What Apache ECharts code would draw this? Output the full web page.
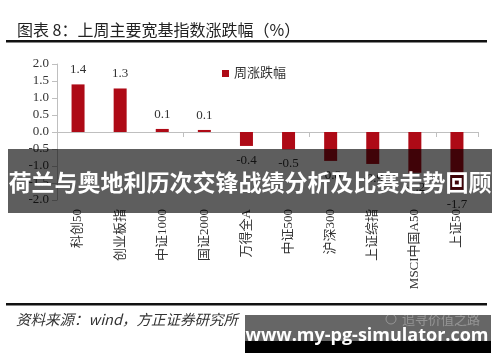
<!DOCTYPE html>
<html>
<head>
<meta charset="utf-8">
<script src="https://cdn.jsdelivr.net/npm/echarts@6/dist/echarts.min.js"></script>
<style>
html,body{margin:0;padding:0;background:#fff;}
#c{width:500px;height:362px;}
</style>
</head>
<body>
<div id="c"></div>
<script>
const categories = ['科创50','创业板指','中证1000','国证2000','万得全A','中证500','沪深300','上证综指','MSCI中国A50','上证50'];
const weeklyChange = [1.4, 1.3, 0.1, 0.1, -0.4, -0.5, -0.8, -0.9, -1.2, -1.7];
const barHeights = [1.40, 1.28, 0.09, 0.06, -0.41, -0.51, -0.85, -0.94, -1.2, -1.70];
const seriesName = '周涨跌幅';
const titleText = '图表 8：上周主要宽基指数涨跌幅（%）';
const sourceText = '资料来源：wind，方正证券研究所';
const bannerText = '荷兰与奥地利历次交锋战绩分析及比赛走势回顾';
const watermarkText = 'www.my-pg-simulator.com';
const faintText = '追寻价值之路';

const serif = '"Liberation Serif","Noto Sans CJK SC",serif';
const chart = echarts.init(document.getElementById('c'));

const barData = barHeights.map((v, i) => ({
  value: v,
  label: {
    position: v >= 0 ? 'top' : 'bottom',
    formatter: () => weeklyChange[i].toFixed(1)
  }
}));

chart.setOption({
  animation: false,
  backgroundColor: '#fff',
  grid: {left: 57, right: 22, top: 64, bottom: 162, containLabel: false},
  legend: {
    data: [seriesName], left: 217, top: 62, icon: 'rect',
    itemWidth: 7, itemHeight: 7, itemGap: 4,
    textStyle: {fontFamily: serif, fontSize: 13, color: '#333'}
  },
  xAxis: [{
    type: 'category', data: categories,
    axisLine: {onZero: true, lineStyle: {color: '#bfbfbf', width: 1}},
    axisTick: {show: true, length: 5, lineStyle: {color: '#bfbfbf'}},
    axisLabel: {show: false}
  }, {
    type: 'category', data: categories, position: 'bottom',
    axisLine: {show: false, onZero: false}, axisTick: {show: false},
    axisLabel: {rotate: 90, margin: 9, fontFamily: serif, fontSize: 13, color: '#333', interval: 0}
  }],
  yAxis: {
    type: 'value', min: -2, max: 2, interval: 0.5,
    axisLine: {show: true, lineStyle: {color: '#bfbfbf'}},
    axisTick: {show: true, length: 5, lineStyle: {color: '#bfbfbf'}},
    splitLine: {show: false},
    axisLabel: {
      margin: 8, fontFamily: serif, fontSize: 13, color: '#333',
      formatter: v => v.toFixed(1)
    }
  },
  series: [{
    name: seriesName, type: 'bar', xAxisIndex: 0, data: barData,
    barWidth: 13,
    itemStyle: {color: '#AE0A16'},
    label: {show: true, distance: 8, fontFamily: serif, fontSize: 13, color: '#333'}
  }],
  graphic: [
    {type: 'text', left: 17, top: 22, z: 100,
     style: {text: titleText, font: '16px "Noto Sans CJK SC", sans-serif', fill: '#222'}},
    {type: 'rect', shape: {x: 6, y: 40, width: 481, height: 2.5}, style: {fill: '#111'}, z: 100},
    {type: 'rect', shape: {x: 6, y: 303, width: 481, height: 2.5}, style: {fill: '#111'}, z: 100},
    {type: 'text', left: 16, top: 312, z: 100,
     style: {text: sourceText, font: 'italic 14.5px "Noto Sans CJK SC", sans-serif', fill: '#333'}},
    {type: 'rect', shape: {x: 8, y: 149, width: 484, height: 64}, style: {fill: 'rgba(0,0,0,0.63)'}, z: 100},
    {type: 'text', x: 250, y: 182, z: 101,
     style: {text: bannerText, font: 'bold 23px "Noto Sans CJK SC", sans-serif', fill: '#fff', align: 'center', verticalAlign: 'middle'}},
    {type: 'rect', shape: {x: 245, y: 315, width: 246, height: 26}, style: {fill: 'rgba(0,0,0,0.6)'}, z: 100},
    {type: 'rect', shape: {x: 245, y: 341, width: 246, height: 12}, style: {fill: '#000'}, z: 100},
    {type: 'text', x: 402, y: 319, z: 101,
     style: {text: faintText, font: '13px "Noto Sans CJK SC", sans-serif', fill: 'rgba(255,255,255,0.3)', verticalAlign: 'middle'}},
    {type: 'circle', shape: {cx: 391, cy: 319, r: 5}, style: {fill: 'none', stroke: 'rgba(255,255,255,0.3)', lineWidth: 1}, z: 101},
    {type: 'text', x: 367, y: 336, z: 101,
     style: {text: watermarkText, font: 'bold 18px "Open Sans", sans-serif', fill: '#fff', align: 'center', verticalAlign: 'middle'}}
  ]
});
</script>
</body>
</html>
